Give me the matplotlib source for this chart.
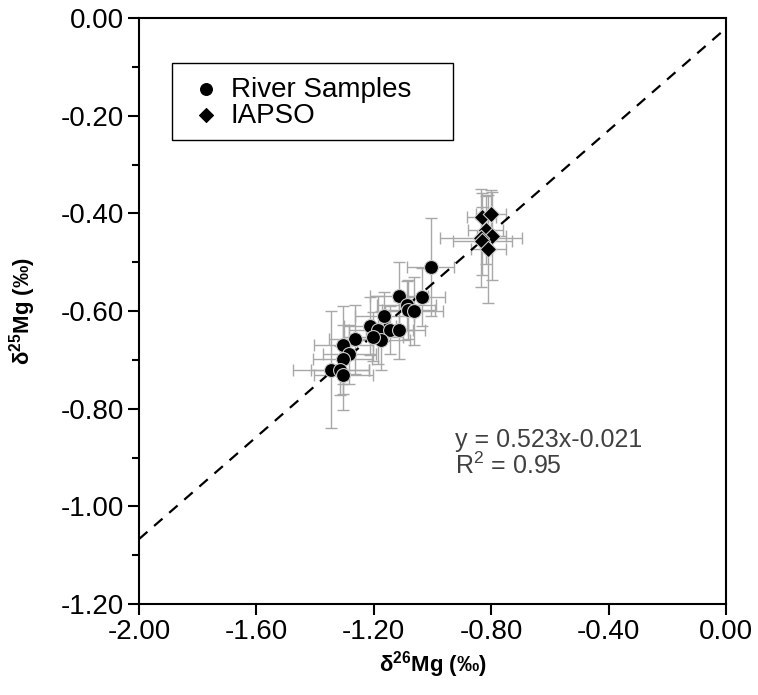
import numpy as np
import matplotlib.pyplot as plt
from matplotlib.patches import Rectangle
from matplotlib.ticker import MultipleLocator, FormatStrFormatter

plt.rcParams['font.family'] = ['Liberation Sans', 'DejaVu Sans']
plt.rcParams['mathtext.fontset'] = 'custom'
plt.rcParams['mathtext.rm'] = 'Liberation Sans'
plt.rcParams['mathtext.bf'] = 'Liberation Sans:bold'

# River samples (delta26Mg, delta25Mg) and their 2SD errors
river_x = [-1.006, -1.114, -1.037, -1.088, -1.082, -1.063, -1.164, -1.213, -1.185, -1.145,
           -1.114, -1.176, -1.202, -1.264, -1.304, -1.283, -1.306, -1.347, -1.315, -1.304]
river_y = [-0.510, -0.570, -0.571, -0.588, -0.597, -0.600, -0.611, -0.631, -0.639, -0.639,
           -0.639, -0.660, -0.653, -0.658, -0.670, -0.689, -0.699, -0.720, -0.721, -0.732]
river_xerr = [0.08, 0.10, 0.08, 0.10, 0.09, 0.10, 0.10, 0.09, 0.10, 0.08,
              0.09, 0.10, 0.10, 0.09, 0.10, 0.09, 0.10, 0.13, 0.10, 0.10]
river_yerr = [0.10, 0.07, 0.06, 0.05, 0.06, 0.07, 0.05, 0.06, 0.07, 0.05,
              0.06, 0.06, 0.05, 0.07, 0.08, 0.06, 0.07, 0.12, 0.05, 0.07]

# IAPSO seawater standard
iapso_x = [-0.832, -0.801, -0.819, -0.798, -0.836, -0.830, -0.810]
iapso_y = [-0.408, -0.402, -0.434, -0.446, -0.451, -0.457, -0.473]
iapso_xerr = [0.05, 0.05, 0.06, 0.05, 0.14, 0.10, 0.06]
iapso_yerr = [0.05, 0.05, 0.07, 0.09, 0.10, 0.07, 0.11]

slope, intercept = 0.523, -0.021

fig = plt.figure(figsize=(7.58, 6.95), dpi=100)
ax = fig.add_axes([0.1834, 0.1309, 0.7744, 0.8432])

err_style = dict(fmt='none', ecolor='#a8a8a8', elinewidth=1, capsize=4, capthick=1, zorder=1)
ax.errorbar(river_x, river_y, xerr=river_xerr, yerr=river_yerr, **err_style)
ax.errorbar(iapso_x, iapso_y, xerr=iapso_xerr, yerr=iapso_yerr, **err_style)

xl = np.array([-2.0, 0.0])
ax.plot(xl, slope * xl + intercept, ls=(0, (5, 4)), color='black', lw=1.6, zorder=2)

ax.scatter(river_x, river_y, s=100, marker='o', facecolor='black', edgecolor='#cccccc',
           linewidth=0.8, zorder=3, label='River Samples')
ax.scatter(iapso_x, iapso_y, s=70, marker='D', facecolor='black', edgecolor='#cccccc',
           linewidth=0.8, zorder=4, label='IAPSO')

ax.set_xlim(-2.0, 0.0)
ax.set_ylim(-1.2, 0.0)
ax.xaxis.set_major_locator(MultipleLocator(0.4))
ax.yaxis.set_major_locator(MultipleLocator(0.2))
ax.yaxis.set_minor_locator(MultipleLocator(0.1))
ax.xaxis.set_major_formatter(FormatStrFormatter('%.2f'))
ax.yaxis.set_major_formatter(FormatStrFormatter('%.2f'))
ax.tick_params(axis='both', which='major', direction='out', length=8, width=1.5,
               labelsize=20, pad=3)
ax.tick_params(axis='y', which='minor', direction='out', length=5, width=1.5)
for sp in ax.spines.values():
    sp.set_linewidth(1.5)

lab_font = dict(fontsize=16, fontweight='bold')
ax.set_xlabel(r'δ$^{\mathbf{26}}$Mg (‰)', labelpad=3, **lab_font)
ax.set_ylabel(r'δ$^{\mathbf{25}}$Mg (‰)', labelpad=16, **lab_font)

# legend frame drawn separately so its size matches the original box
ax.add_patch(Rectangle((0.0562, 0.792), 0.479, 0.131, transform=ax.transAxes,
                       facecolor='white', edgecolor='black', lw=1.0, zorder=5))
leg = ax.legend(loc='upper left', bbox_to_anchor=(0.090, 0.900), fontsize=20,
                frameon=False, handletextpad=0.4, borderpad=0, labelspacing=0.0,
                markerscale=0.85, handlelength=1.0, borderaxespad=0)
leg.set_zorder(6)
for h in leg.legend_handles:
    h.set_edgecolor('black')

ax.text(-0.923, -0.84, 'y = 0.523x-0.021\nR$^2$ = 0.95', fontsize=18, color='#404040',
        va='top', ha='left', linespacing=1.0)

fig.savefig('out.png', dpi=100)
